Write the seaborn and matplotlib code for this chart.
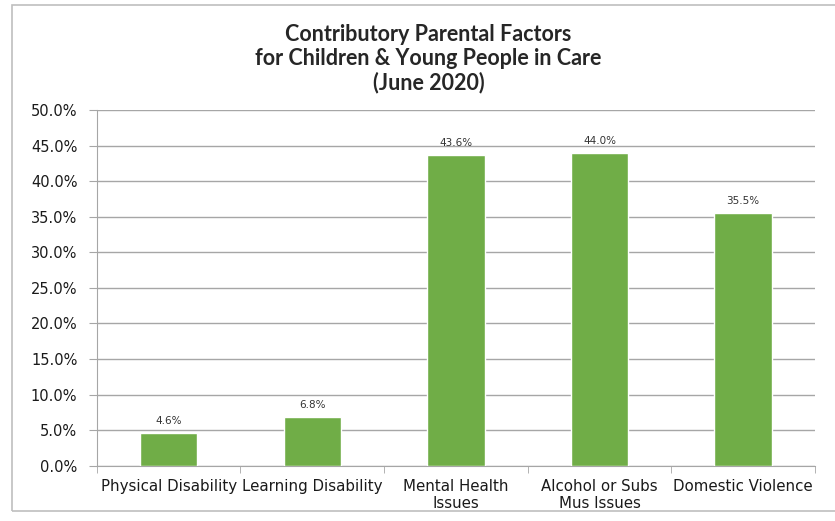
import pandas as pd
import numpy as np
import matplotlib.pyplot as plt
import seaborn as sns
from matplotlib.patches import Rectangle
from matplotlib.ticker import PercentFormatter, FixedLocator

# data
factors = ['Physical Disability', 'Learning Disability', 'Mental Health\nIssues',
           'Alcohol or Subs\nMus Issues', 'Domestic Violence']
pct = [4.6, 6.8, 43.6, 44.0, 35.5]
y_ticks = [0, 5, 10, 15, 20, 25, 30, 35, 40, 45, 50]

df = pd.DataFrame({'factor': factors, 'pct': pct})

sns.set_style('white')
plt.rcParams['font.family'] = ['DejaVu Sans']

fig = plt.figure(figsize=(8.35, 5.21), dpi=100)
ax = fig.add_axes([0.116, 0.106, 0.860, 0.683])

sns.barplot(data=df, x='factor', y='pct', color='#70AD47', width=0.4,
            saturation=1, ax=ax, zorder=3)

for p, v in zip(ax.patches, pct):
    ax.text(p.get_x() + p.get_width() / 2, v + 1.0, f'{v:.1f}%',
            ha='center', va='bottom', fontsize=7.5, color='#333333')

ax.set_ylim(0, 50)
ax.set_xlim(-0.5, 4.5)
ax.set_yticks(y_ticks)
ax.yaxis.set_major_formatter(PercentFormatter(decimals=1))
ax.grid(axis='y', color='#a6a6a6', linewidth=1, zorder=0)
ax.set_xlabel('')
ax.set_ylabel('')

for s in ['top', 'right']:
    ax.spines[s].set_visible(False)
for s in ['left', 'bottom']:
    ax.spines[s].set_color('#a6a6a6')

ax.tick_params(axis='y', left=True, length=6, color='#a6a6a6', labelsize=10.5,
               pad=8, labelcolor='#1a1a1a')
ax.tick_params(axis='x', bottom=False, labelsize=10.8, pad=6, labelcolor='#1a1a1a')
ax.xaxis.set_minor_locator(FixedLocator(np.arange(-0.5, 5, 1)))
ax.tick_params(axis='x', which='minor', bottom=True, length=5, color='#a6a6a6')

fig.text(0.513, 0.887, 'Contributory Parental Factors\nfor Children & Young People in Care\n(June 2020)',
         ha='center', va='center', fontsize=15.5, fontweight='bold', linespacing=1.15,
         family=['Lato', 'DejaVu Sans'])

# outer chart frame
fig.patches.append(Rectangle((12 / 835, 0.02), 1.0, 0.97, transform=fig.transFigure,
                             fill=False, edgecolor='#bfbfbf', linewidth=1.2))

fig.savefig('out.png', dpi=100)
